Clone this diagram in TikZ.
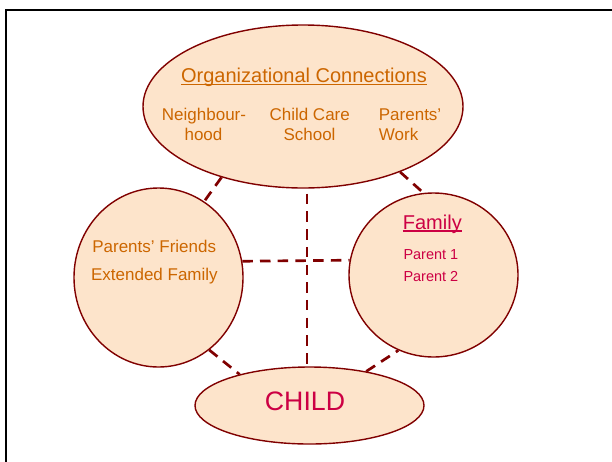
\documentclass[tikz,border=0pt]{standalone}
\usepackage{fontspec}
\setmainfont{Liberation Sans}
\usetikzlibrary{shapes.geometric}
\definecolor{edgered}{HTML}{800000}
\definecolor{peach}{HTML}{FDE4CB}
\definecolor{orangetxt}{HTML}{CC6600}
\definecolor{redtxt}{HTML}{CC0044}
\newsavebox\ulbox
\newcommand\ulword[1]{\sbox\ulbox{#1}\rlap{\rule[-2.6pt]{\wd\ulbox}{1.3pt}}\usebox\ulbox}
\begin{document}
\begin{tikzpicture}[x=1pt,y=-1pt,
  blob/.style={ellipse, draw=edgered, line width=1.4pt, fill=peach, inner sep=0pt},
  link/.style={draw=edgered, line width=2.7pt, dash pattern=on 10.5pt off 7.2pt},
  otxt/.style={text=orangetxt, inner sep=0pt, font=\fontsize{17}{20}\selectfont},
  rtxt/.style={text=redtxt, inner sep=0pt, font=\fontsize{14.5}{17}\selectfont}]
\useasboundingbox (0,0) rectangle (612,461);
\draw[line width=2pt] (6,9.5) rectangle (640,490);
% ellipses
\node[blob, minimum width=320pt, minimum height=163pt] (top) at (303,106.5) {};
\node[blob, minimum width=169pt, minimum height=179pt] (left) at (158.5,277.5) {};
\node[blob, minimum width=169pt, minimum height=164pt] (right) at (433.5,275) {};
\node[blob, minimum width=229pt, minimum height=77pt] (child) at (309.5,405.5) {};
% connectors
\draw[link] (top.221.5) -- (left.59.8);
\draw[link] (top.326.4) -- (right.97.3);
\draw[link, dash phase=-5pt] ([xshift=4pt]top.south) -- ([xshift=4pt]top.south |- child.north);
\draw[link] (left.11.2) -- (right.170.5);
\draw[link] (left.305.4) -- (child.156.5);
\draw[link] (child.31.7) -- (right.245.9);
% texts
\node[otxt, font=\fontsize{20}{24}\selectfont, anchor=base] (orgtitle) at (304,82.7) {\ulword{Organizational Connections}};
\node[otxt, anchor=base] (nb1) at (204,120) {Neighbour-};
\node[otxt, anchor=base] (nb2) at (203.5,140.7) {hood};
\node[otxt, anchor=base] (cc1) at (309.7,120) {Child Care};
\node[otxt, anchor=base] (cc2) at (309.5,140.7) {School};
\node[otxt, anchor=base west] (pw1) at (378.7,120) {Parents’};
\node[otxt, anchor=base west] (pw2) at (378.7,140.7) {Work};
\node[otxt, anchor=base] (pf) at (154.2,252.3) {Parents’ Friends};
\node[otxt, anchor=base] (ef) at (154.4,280) {Extended Family};
\node[rtxt, font=\fontsize{20}{24}\selectfont, anchor=base west] (fam) at (402.7,229) {\ulword{Family}};
\node[rtxt, anchor=base west] (p1) at (403.3,259) {Parent 1};
\node[rtxt, anchor=base west] (p2) at (403.3,281) {Parent 2};
\node[rtxt, font=\fontsize{26.7}{30}\selectfont, anchor=base] (childtxt) at (305,410.7) {CHILD};
\end{tikzpicture}
\end{document}
